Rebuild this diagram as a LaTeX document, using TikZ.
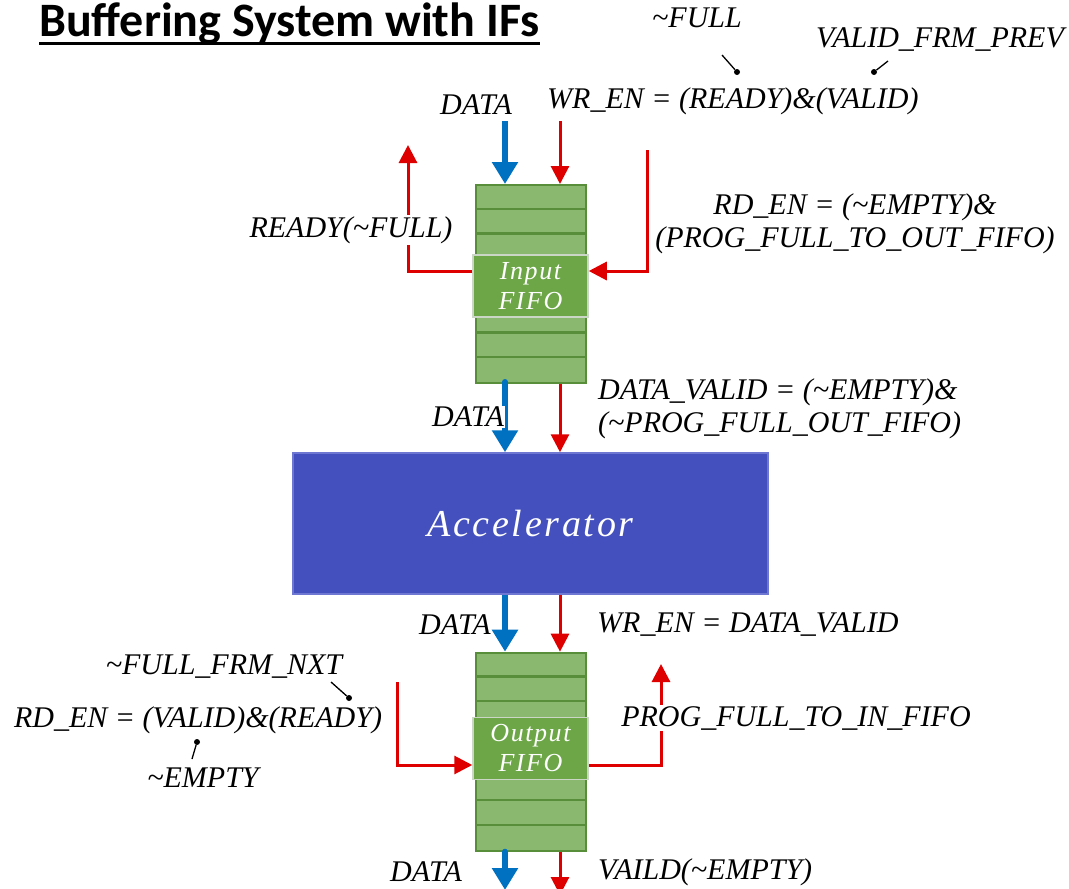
\documentclass[tikz,border=0pt]{standalone}
\usepackage{fontspec}
\setmainfont{Liberation Serif}
\newfontfamily\titlefont{Carlito}
\usetikzlibrary{arrows.meta}

\definecolor{dblue}{RGB}{0,112,192}
\definecolor{sred}{RGB}{222,0,0}
\definecolor{rowgreen}{RGB}{138,184,110}
\definecolor{rowedge}{RGB}{88,142,58}
\definecolor{lblgreen}{RGB}{108,166,70}
\definecolor{lbledge}{RGB}{204,214,198}
\definecolor{accblue}{RGB}{68,80,190}
\definecolor{accedge}{RGB}{110,120,210}

\tikzset{
  sig/.style={font=\fontsize{30}{33}\selectfont\itshape, inner sep=1pt},
  heading/.style={font=\titlefont\bfseries\fontsize{48}{52}\selectfont, inner sep=0pt},
  dataarrow/.style={draw=dblue, line width=6pt, line cap=round,
    -{Triangle[width=25pt,length=22pt]}},
  ctrlarrow/.style={draw=sred, line width=3pt,
    -{Triangle[width=18pt,length=18pt]}},
  fifo/.style={draw=rowedge, line width=2pt, fill=rowgreen,
    minimum width=110pt, minimum height=198pt, inner sep=0pt},
  rowline/.style={draw=rowedge, line width=2.4pt},
  fifolbl/.style={draw=lbledge, line width=1.5pt, fill=lblgreen, text=white,
    minimum width=115pt, minimum height=62pt, inner sep=0pt, align=center,
    font=\fontsize{26}{30}\selectfont\itshape\addfontfeature{LetterSpace=6}},
  accel/.style={draw=accedge, line width=1.5pt, fill=accblue, text=white,
    minimum width=475pt, minimum height=141pt, inner sep=0pt,
    font=\fontsize{38}{42}\selectfont\itshape\addfontfeature{LetterSpace=7}},
  pointer/.style={line width=1.3pt},
  pdot/.style={circle, fill=black, inner sep=0pt, minimum size=6pt},
}

\begin{document}
\begin{tikzpicture}[x=1pt,y=-1pt]
\useasboundingbox (0,0) rectangle (1069,889);

% heading
\node[heading, anchor=base west] (ttl) at (39,36) {Buffering System with IFs};
\draw[line width=3pt] ([yshift=-7pt]ttl.base west) -- ([yshift=-7pt]ttl.base east);

% column positions of the data and control lines
\coordinate (bx) at (505,0);
\coordinate (rx) at (560,0);

% input FIFO
\node[fifo] (infifo) at (531,284) {};
\foreach \k in {1,...,7}
  \draw[rowline] ([yshift=-\k*24.75pt]infifo.north west) -- ([yshift=-\k*24.75pt]infifo.north east);
\node[fifolbl] (inlbl) at (530.5,286) {Input\\FIFO};

% output FIFO
\node[fifo] (outfifo) at (531,751.7) {};
\foreach \k in {1,...,7}
  \draw[rowline] ([yshift=-\k*24.75pt]outfifo.north west) -- ([yshift=-\k*24.75pt]outfifo.north east);
\node[fifolbl] (outlbl) at (530.5,748.5) {Output\\FIFO};

% accelerator
\node[accel] (acc) at (530.5,523.5) {Accelerator};

% ---- input side ----
\coordinate (dataSrc) at (505,121);
\coordinate (wrSrc) at (560,121);
\draw[dataarrow, line cap=butt] (dataSrc) -- (infifo.north -| dataSrc);
\draw[ctrlarrow] (wrSrc) -- (infifo.north -| wrSrc);
\node[sig] (dTop) at (476,105) {DATA};
\node[sig, anchor=west] (wrIn) at (546,101) {WR\_EN = (READY)\&(VALID)};

\node[sig] (fullTxt) at (697,18) {\textasciitilde FULL};
\node[sig] (validTxt) at (940,40) {VALID\_FRM\_PREV};
\node[pdot] (dFull) at (737,72) {};
\coordinate (tFull) at (722,55);
\draw[pointer] (tFull) -- (dFull);
\node[pdot] (dValid) at (874,72) {};
\coordinate (tValid) at (888,61);
\draw[pointer] (tValid) -- (dValid);

\coordinate (inY) at (0,271);
\coordinate (readyDst) at (408,145);
\draw[ctrlarrow] (inlbl.west |- inY) -| (readyDst);
\node[sig, fill=white] (ready) at (351,230) {READY(\textasciitilde FULL)};

\coordinate (rdSrc) at (647,150);
\draw[ctrlarrow] (rdSrc) |- (inlbl.east |- inY);
\node[sig, align=center] (rdIn) at (855,224)
  {RD\_EN = (\textasciitilde EMPTY)\&\\(PROG\_FULL\_TO\_OUT\_FIFO)};

% ---- between input FIFO and accelerator ----
\draw[dataarrow] ([yshift=2pt]infifo.south -| bx) -- (acc.north -| bx);
\node[sig, fill=white] (dMid) at (468,417) {DATA};
\draw[ctrlarrow] (infifo.south -| rx) -- (acc.north -| rx);
\node[sig, align=left, anchor=west] (dvTxt) at (597,409)
  {DATA\_VALID = (\textasciitilde EMPTY)\&\\(\textasciitilde PROG\_FULL\_OUT\_FIFO)};

% ---- between accelerator and output FIFO ----
\draw[dataarrow, line cap=butt] (acc.south -| bx) -- (outfifo.north -| bx);
\draw[ctrlarrow] (acc.south -| rx) -- (outfifo.north -| rx);
\node[sig, anchor=east] (dOut) at (492,625) {DATA};
\node[sig, anchor=west] (wrOut) at (596,625) {WR\_EN = DATA\_VALID};

% ---- output side ----
\coordinate (outY) at (0,765);
\coordinate (rdOutSrc) at (397,682);
\draw[ctrlarrow] (rdOutSrc) |- (outlbl.west |- outY);
\node[sig] (fullNxt) at (224,667) {\textasciitilde FULL\_FRM\_NXT};
\node[sig] (rdOut) at (198,720) {RD\_EN = (VALID)\&(READY)};
\node[sig] (emptyTxt) at (203,778) {\textasciitilde EMPTY};
\node[pdot] (dNxt) at (349,698) {};
\coordinate (tNxt) at (331,682);
\draw[pointer] (tNxt) -- (dNxt);
\node[pdot] (dEmpty) at (197,742) {};
\coordinate (tEmpty) at (192,759);
\draw[pointer] (tEmpty) -- (dEmpty);

\coordinate (progDst) at (661,664);
\draw[ctrlarrow] (outlbl.east |- outY) -| (progDst);
\node[sig, fill=white] (progTxt) at (796,718) {PROG\_FULL\_TO\_IN\_FIFO};

% ---- outputs ----
\coordinate (dataEnd) at (505,890);
\coordinate (validEnd) at (560,895);
\draw[dataarrow] (outfifo.south -| bx) -- (dataEnd);
\draw[ctrlarrow] (outfifo.south -| rx) -- (validEnd);
\node[sig] (dBot) at (426,872) {DATA};
\node[sig, anchor=west] (validTxt2) at (597,872) {VAILD(\textasciitilde EMPTY)};
\end{tikzpicture}
\end{document}
